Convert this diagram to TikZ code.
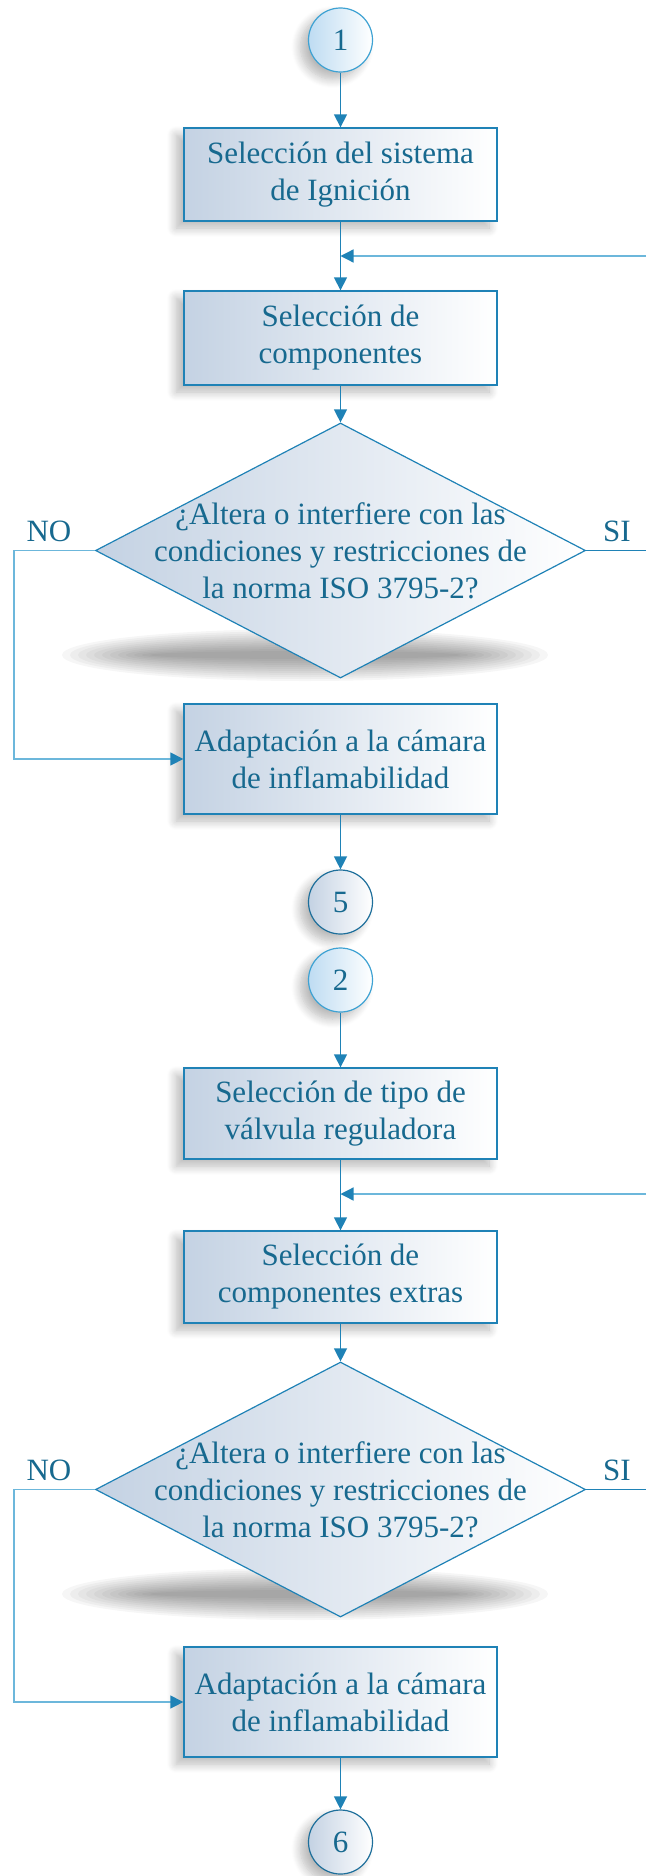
\documentclass[tikz,border=0pt]{standalone}
\usepackage{fontspec}
\setmainfont{Liberation Serif}
\usetikzlibrary{arrows.meta}
\usetikzlibrary{positioning}
\usetikzlibrary{shapes.geometric}
\usetikzlibrary{shadows.blur}

\definecolor{linea}{HTML}{1F82B6}
\definecolor{texto}{HTML}{17698F}
\definecolor{retorno}{HTML}{6CB7DB}
\definecolor{relleno}{HTML}{C4D2E3}
\definecolor{claro}{HTML}{BFDCF2}
\definecolor{bordeclaro}{HTML}{3EA2D3}
\definecolor{bordeosc}{HTML}{1E6F9B}

\tikzset{
	letra/.style={text=texto, font=\fontsize{31}{37}\selectfont},
	sombra/.style={blur shadow={shadow xshift=-8pt, shadow yshift=-7pt, shadow blur radius=9pt, shadow blur steps=10, shadow opacity=28}},
	caja/.style={rectangle, draw=linea, line width=1.3pt, left color=relleno, right color=white, minimum width=313pt, inner sep=0pt, align=center, letra, sombra},
	decision/.style={diamond, draw=linea, line width=1.2pt, left color=relleno, right color=white, minimum width=490pt, minimum height=255pt, inner sep=0pt},
	inicio/.style={circle, draw=bordeclaro, line width=1.2pt, left color=claro, right color=white, minimum size=64pt, inner sep=0pt, letra, sombra},
	final/.style={circle, draw=bordeosc, line width=1.2pt, left color=relleno, right color=white, minimum size=64pt, inner sep=0pt, letra, sombra},
	flecha/.style={draw=linea, line width=1.3pt, -{Triangle[width=13pt, length=13pt, color=linea]}},
	vuelta/.style={draw=retorno, line width=1.3pt, -{Triangle[width=13pt, length=13pt, color=linea]}},
	etiqueta/.style={letra, inner sep=0pt}
}

\begin{document}
\begin{tikzpicture}[x=1pt, y=1pt]
	\useasboundingbox (0,0) rectangle (646,-1876);

	% sombras de los rombos
	\foreach \y in {-655,-1594} {
		\foreach \k in {0,...,11} {
			\fill[black, opacity=.035] (305,\y) ellipse ({243-8*\k} and {26-2*\k});
		}
	}

	% primer bloque
	\node[inicio] (ini1) at (340.5,-40) {1};
	\node[caja, minimum height=93pt] (sel1) at (340.5,-174.5) {Selección del sistema\\de Ignición};
	\node[caja, minimum height=94pt] (sel2) at (340.5,-338) {Selección de\\componentes};
	\node[decision, label={[letra, align=center]center:¿Altera o interfiere con las\\condiciones y restricciones de\\la norma ISO 3795-2?}] (dec1) at (340.5,-550.5) {};
	\node[caja, minimum height=110pt] (adap1) at (340.5,-759) {Adaptación a la cámara\\de inflamabilidad};
	\node[final] (fin5) at (340.5,-902) {5};
	\node[etiqueta] (no1) at (49,-531) {NO};
	\node[etiqueta] (si1) at (617,-531) {SI};
	\coordinate (ret1) at (646,-256);
	\coordinate (sal1) at (646,-550.5);

	\draw[flecha] (ini1) -- (sel1);
	\draw[flecha] (sel1) -- (sel2);
	\draw[vuelta] (ret1) -- (ret1 -| sel1.south);
	\draw[flecha] (sel2) -- (dec1.north);
	\draw[line width=1.2pt, draw=linea] (dec1.east) -- (sal1);
	\draw[vuelta] (dec1.west) -- (14,-550.5) |- (adap1.west);
	\draw[flecha] (adap1) -- (fin5);

	% segundo bloque
	\node[inicio] (ini2) at (340.5,-980) {2};
	\node[caja, minimum height=91pt] (sel3) at (340.5,-1113.5) {Selección de tipo de\\válvula reguladora};
	\node[caja, minimum height=92pt] (sel4) at (340.5,-1277) {Selección de\\componentes extras};
	\node[decision, label={[letra, align=center]center:¿Altera o interfiere con las\\condiciones y restricciones de\\la norma ISO 3795-2?}] (dec2) at (340.5,-1489.5) {};
	\node[caja, minimum height=110pt] (adap2) at (340.5,-1702) {Adaptación a la cámara\\de inflamabilidad};
	\node[final] (fin6) at (340.5,-1842) {6};
	\node[etiqueta] (no2) at (49,-1470) {NO};
	\node[etiqueta] (si2) at (617,-1470) {SI};
	\coordinate (ret2) at (646,-1194);
	\coordinate (sal2) at (646,-1489.5);

	\draw[flecha] (ini2) -- (sel3);
	\draw[flecha] (sel3) -- (sel4);
	\draw[vuelta] (ret2) -- (ret2 -| sel3.south);
	\draw[flecha] (sel4) -- (dec2.north);
	\draw[line width=1.2pt, draw=linea] (dec2.east) -- (sal2);
	\draw[vuelta] (dec2.west) -- (14,-1489.5) |- (adap2.west);
	\draw[flecha] (adap2) -- (fin6);
\end{tikzpicture}
\end{document}
